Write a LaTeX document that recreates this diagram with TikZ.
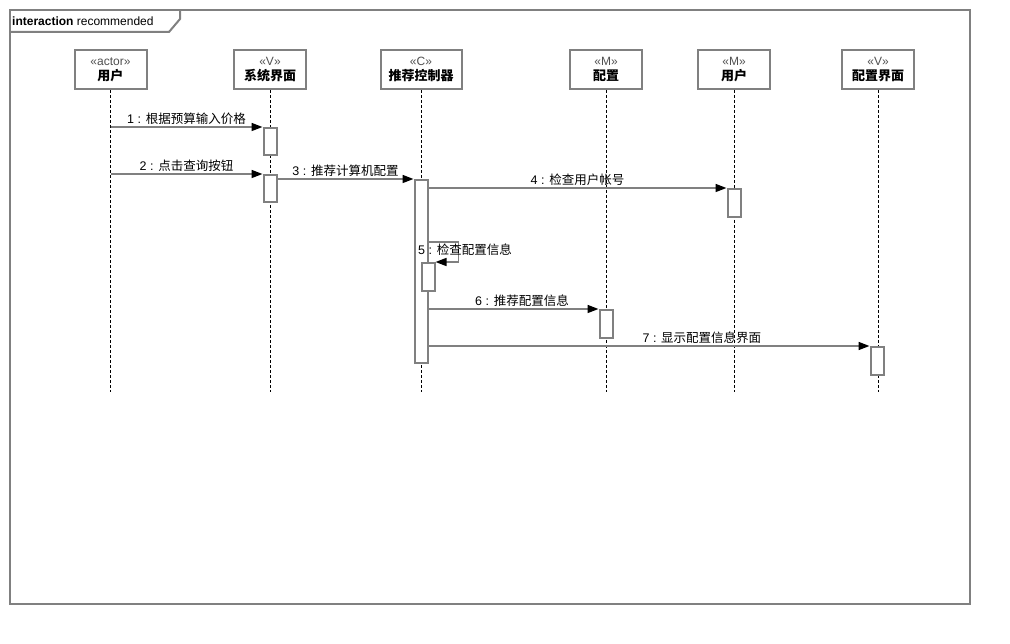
\documentclass[tikz,border=0pt]{standalone}
\usepackage{fontspec}
\setmainfont{Liberation Sans}
\newfontfamily\cjk{Noto Sans CJK SC}
\usetikzlibrary{arrows.meta,positioning}
\definecolor{edge}{HTML}{808080}
\definecolor{stereo}{HTML}{505050}
\tikzset{
  frame/.style={draw=edge, line width=2pt},
  head/.style={draw=edge, line width=2pt, fill=white, minimum width=72pt, minimum height=39pt,
    inner xsep=8pt, align=center, font=\fontsize{13}{15}\selectfont},
  act/.style={draw=edge, line width=2pt, fill=white, minimum width=13pt, inner sep=0pt, anchor=north},
  life/.style={black, dash pattern=on 3pt off 2pt, line width=0.9pt},
  msg/.style={edge, line width=1.6pt, -{Triangle[length=11pt,width=8pt,black]}},
  lbl/.style={text=black, font=\fontsize{12.5}{14}\selectfont, inner sep=2pt},
}
\newcommand{\lifehead}[2]{{\color{stereo}\fontsize{12}{14}\selectfont «#1»}\\{\cjk\bfseries #2}}
\newcommand{\msgtext}[2]{#1 : {\cjk #2}}

\begin{document}
\begin{tikzpicture}[x=1pt, y=-1pt]
  \useasboundingbox (0,0) rectangle (1010,644);
  % frame
  \draw[frame] (10,10) rectangle (970,604);
  \draw[frame] (10,32) -- (169,32) -- (180,19) -- (180,10);
  \node[anchor=west, inner sep=0pt, font=\fontsize{12}{14}\selectfont] (title) at (12,21)
    {\textbf{interaction} recommended};
  % lifeline heads
  \node[head] (hUser)  at (110.5,69.5) {\lifehead{actor}{用户}};
  \node[head] (hUI)    at (270,69.5)   {\lifehead{V}{系统界面}};
  \node[head] (hCtrl)  at (421,69.5)   {\lifehead{C}{推荐控制器}};
  \node[head] (hCfg)   at (606,69.5)   {\lifehead{M}{配置}};
  \node[head] (hMUser) at (734,69.5)   {\lifehead{M}{用户}};
  \node[head] (hCfgUI) at (878,69.5)   {\lifehead{V}{配置界面}};
  \foreach \h in {hUser,hUI,hCtrl,hCfg,hMUser,hCfgUI}
    \draw[life] (\h.south) -- (\h.south |- 0,392);
  % activations
  \node[act, minimum height=27pt]  (a1) at (270,127) {};
  \node[act, minimum height=27pt]  (a2) at (270,174) {};
  \node[act, minimum height=183pt] (aC) at (421,179) {};
  \node[act, minimum height=28pt]  (a4) at (734,188) {};
  \node[act, minimum height=28pt]  (a5) at (428,262) {};
  \node[act, minimum height=28pt]  (a6) at (606,309) {};
  \node[act, minimum height=28pt]  (a7) at (877,346) {};
  % messages
  \coordinate (m1) at (hUser.south |- a1.north);
  \coordinate (m2) at (hUser.south |- a2.north);
  \draw[msg] (m1) -- node[lbl, above] {\msgtext{1}{根据预算输入价格}} (a1.north west);
  \draw[msg] (m2) -- node[lbl, above] {\msgtext{2}{点击查询按钮}} (a2.north west);
  \draw[msg] (a2.east |- aC.north) -- node[lbl, above] {\msgtext{3}{推荐计算机配置}} (aC.north west);
  \draw[msg] (aC.east |- a4.north) -- node[lbl, above] {\msgtext{4}{检查用户帐号}} (a4.north west);
  \draw[msg] (aC.east |- 0,242) -- ++(30,0) |- (a5.north east);
  \node[lbl] (l5) at (465,250) {\msgtext{5}{检查配置信息}};
  \draw[msg] (aC.east |- a6.north) -- node[lbl, above, pos=0.55] {\msgtext{6}{推荐配置信息}} (a6.north west);
  \draw[msg] (aC.east |- a7.north) -- node[lbl, above, pos=0.62] {\msgtext{7}{显示配置信息界面}} (a7.north west);
\end{tikzpicture}
\end{document}
